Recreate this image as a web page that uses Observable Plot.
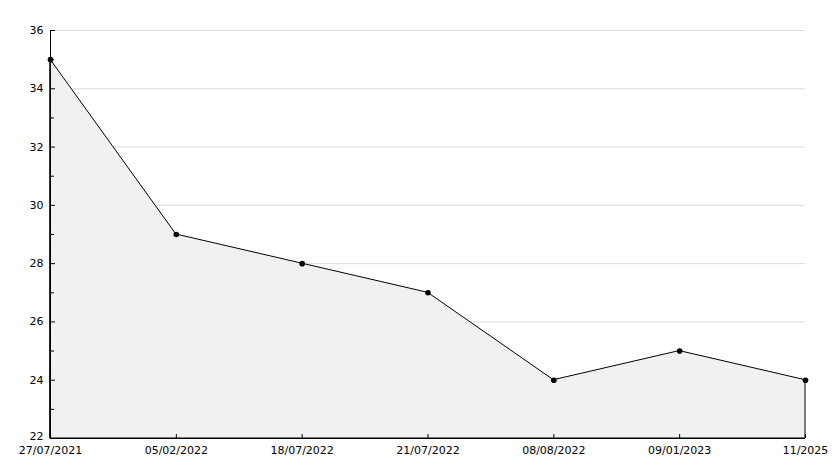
<!DOCTYPE html>
<html>
<head>
<meta charset="utf-8">
<script src="https://cdn.jsdelivr.net/npm/d3@7"></script>
<script src="https://cdn.jsdelivr.net/npm/@observablehq/plot@0.6"></script>
<style>
  html, body { margin: 0; padding: 0; background: #fff; }
  svg { display: block; }
</style>
</head>
<body>
<div id="chart"></div>
<script>
const dates = ["27/07/2021", "05/02/2022", "18/07/2022", "21/07/2022", "08/08/2022", "09/01/2023", "11/2025"];
const values = [35, 29, 28, 27, 24, 25, 24];
const yLabelTicks = [24, 26, 28, 30, 32, 34, 36];
const yBottomTick = [22];
const yGridTicks = [24, 26, 28, 30, 32, 34, 36];
const yMinorTicks = [23, 25, 27, 29, 31, 33, 35];

const data = dates.map((d, i) => ({date: d, value: values[i]}));

const W = 834, H = 468, mL = 50, mR = 29, mT = 30, mB = 30;
const frameW = W - mL - mR, frameH = H - mT - mB;

const chart = Plot.plot({
  width: W,
  height: H,
  marginLeft: mL,
  marginRight: mR,
  marginTop: mT,
  marginBottom: mB,
  style: {fontFamily: "DejaVu Sans", fontSize: "11px", color: "#000", background: "#fff"},
  x: {type: "point", domain: dates, padding: 0, round: false, label: null},
  y: {domain: [22, 36], label: null},
  marks: [
    Plot.gridY(yGridTicks, {stroke: "#dcdcdc", strokeOpacity: 1}),
    Plot.areaY(data, {x: "date", y1: 22, y2: "value", fill: "#f1f1f1", stroke: "#000", strokeWidth: 1}),
    Plot.ruleY(yLabelTicks, {stroke: "#000", insetRight: frameW - 5}),
    Plot.ruleY(yMinorTicks, {stroke: "#000", insetRight: frameW - 4}),
    Plot.ruleX(dates, {stroke: "#000", insetTop: frameH - 4}),
    Plot.ruleX([dates[0]], {stroke: "#000"}),
    Plot.ruleY([22], {stroke: "#000"}),
    Plot.dot(data, {x: "date", y: "value", r: 2.8, fill: "#000", stroke: "none"}),
    Plot.axisY(yLabelTicks, {tickSize: 0, tickPadding: 7, fill: "#000", fontSize: 11}),
    Plot.axisY(yBottomTick, {tickSize: 0, tickPadding: 7, fill: "#000", fontSize: 11, dy: -2}),
    Plot.axisX(dates, {tickSize: 0, tickPadding: 8, fill: "#000", fontSize: 11})
  ]
});
document.getElementById("chart").appendChild(chart);
</script>
</body>
</html>
